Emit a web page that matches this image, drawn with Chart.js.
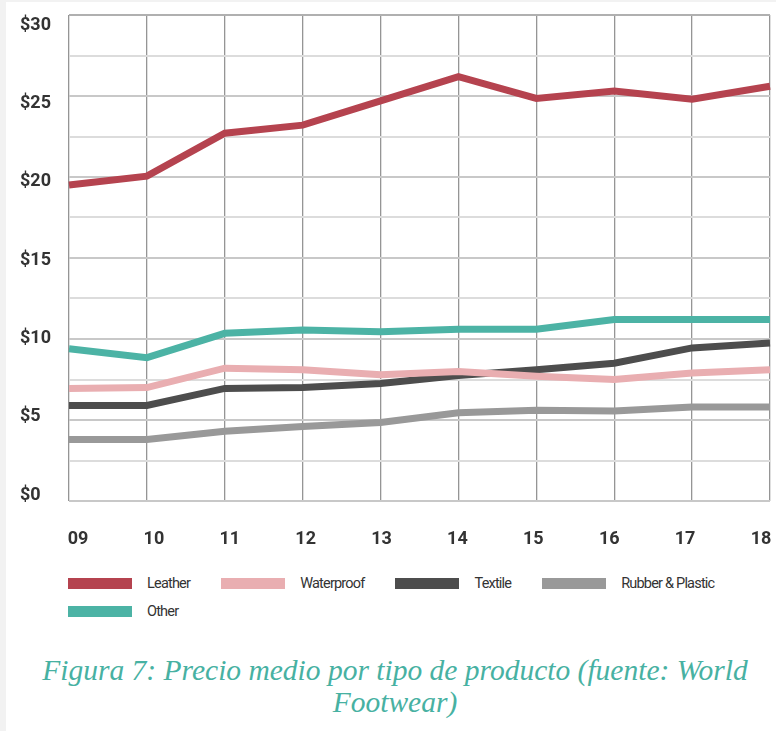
<!DOCTYPE html>
<html>
<head>
<meta charset="utf-8">
<script src="https://cdn.jsdelivr.net/npm/chart.js@4.4.1/dist/chart.umd.min.js"></script>
<style>
  html, body { margin: 0; padding: 0; }
  body { width: 776px; height: 731px; background: #f2f2f2; position: relative; overflow: hidden; }
  #panel { position: absolute; left: 6px; top: 2px; right: 0; bottom: 0; background: #fff; }
  #chart { position: absolute; left: 0; top: 0; }
  #legend {
    position: absolute; left: 68px; top: 572px; width: 670px;
    display: flex; flex-wrap: wrap; row-gap: 6px; column-gap: 31px;
    font: 14.5px Roboto, "Noto Sans", sans-serif; letter-spacing: -0.8px; color: #333;
  }
  .item { display: flex; align-items: center; height: 22px; }
  .swatch { width: 64px; height: 11px; margin-right: 15px; }
  #caption {
    position: absolute; left: 0; width: 790px; top: 654px; text-align: center;
    font: italic 29.5px "Liberation Serif", "DejaVu Serif", serif; line-height: 32px; color: #47b1a2;
  }
</style>
</head>
<body>
<div id="panel"></div>
<canvas id="chart" width="776" height="560"></canvas>
<div id="legend"></div>
<div id="caption">Figura 7: Precio medio por tipo de producto (fuente: World<br>Footwear)</div>
<script>
// Years (two-digit) on the horizontal axis
const years = ['09', '10', '11', '12', '13', '14', '15', '16', '17', '18'];

// Average price per product type, USD
const leather    = [19.5, 20.05, 22.7, 23.2, 24.7, 26.2, 24.85, 25.3, 24.8, 25.6];
const waterproof = [6.95, 7.0, 8.2, 8.1, 7.8, 8.0, 7.7, 7.5, 7.9, 8.1];
const textile    = [5.9, 5.9, 6.95, 7.0, 7.25, 7.75, 8.1, 8.5, 9.45, 9.75];
const rubber     = [3.8, 3.8, 4.3, 4.6, 4.85, 5.45, 5.6, 5.55, 5.8, 5.8];
const other      = [9.4, 8.85, 10.35, 10.55, 10.45, 10.6, 10.6, 11.2, 11.2, 11.2];

// Price axis labels
const priceTicks = [0, 5, 10, 15, 20, 25, 30];
const priceLabels = ['$0', '$5', '$10', '$15', '$20', '$25', '$30'];

const series = [
  { label: 'Leather', data: leather, color: '#b5434f' },
  { label: 'Waterproof', data: waterproof, color: '#e9aeb1' },
  { label: 'Textile', data: textile, color: '#4d4d4d' },
  { label: 'Rubber & Plastic', data: rubber, color: '#999999' },
  { label: 'Other', data: other, color: '#4cb3a5' }
];

const tickFont = { family: 'Roboto, "Noto Sans", sans-serif', size: 18, weight: 'bold' };

// Horizontal axes keep no side padding, so the plot runs to the right edge
const noSidePadding = s => { s.paddingLeft = 0; s.paddingRight = 0; };

const chart = new Chart(document.getElementById('chart'), {
  type: 'line',
  data: {
    labels: years,
    datasets: series.map(s => ({
      label: s.label,
      data: s.data,
      borderColor: s.color,
      backgroundColor: s.color,
      borderWidth: 7,
      pointRadius: 0,
      tension: 0,
      fill: false,
      xAxisID: 'x',
      yAxisID: 'y'
    }))
  },
  options: {
    responsive: false,
    animation: false,
    devicePixelRatio: 1,
    layout: { padding: { left: 20, right: 6, top: 15, bottom: 0 } },
    plugins: { legend: { display: false }, tooltip: { enabled: false } },
    scales: {
      x: {
        type: 'category',
        position: 'bottom',
        weight: 0,
        offset: false,
        grid: { color: '#959595', lineWidth: 1.3, drawTicks: false },
        border: { display: false },
        ticks: { display: false },
        afterFit: s => { s.height = 0; noSidePadding(s); }
      },
      x2: {
        type: 'linear',
        position: 'bottom',
        weight: 1,
        min: -0.1186,
        max: 9.1186,
        grid: { display: false, drawTicks: false },
        border: { display: false },
        afterBuildTicks: s => { s.ticks = years.map((_, i) => ({ value: i })); },
        ticks: {
          padding: 28,
          color: '#333',
          font: tickFont,
          maxRotation: 0,
          autoSkip: false,
          callback: v => years[v]
        },
        afterFit: s => { s.height = 59; noSidePadding(s); }
      },
      y: {
        type: 'linear',
        position: 'left',
        weight: 0,
        min: 0,
        max: 30,
        grid: {
          drawTicks: false,
          lineWidth: 2,
          color: c => (c.tick.value === 30 ? '#b0b0b0' : (c.tick.value % 5 === 0 ? '#c8c8c8' : '#dcdcdc'))
        },
        border: { display: false },
        ticks: { display: false, stepSize: 2.5 },
        afterFit: s => { s.width = 0; }
      },
      y2: {
        type: 'linear',
        position: 'left',
        weight: 1,
        min: -0.383,
        max: 30.64,
        grid: { display: false, drawTicks: false },
        border: { display: false },
        afterBuildTicks: s => { s.ticks = priceTicks.map(v => ({ value: v })); },
        ticks: {
          crossAlign: 'far',
          color: '#333',
          font: tickFont,
          callback: v => priceLabels[priceTicks.indexOf(v)]
        },
        afterFit: s => { s.width = 49; }
      }
    }
  }
});

// Legend built from the chart's datasets
const legend = document.getElementById('legend');
chart.data.datasets.forEach(ds => {
  const item = document.createElement('div');
  item.className = 'item';
  const sw = document.createElement('span');
  sw.className = 'swatch';
  sw.style.background = ds.borderColor;
  const txt = document.createElement('span');
  txt.textContent = ds.label;
  item.appendChild(sw);
  item.appendChild(txt);
  legend.appendChild(item);
});
</script>
</body>
</html>
